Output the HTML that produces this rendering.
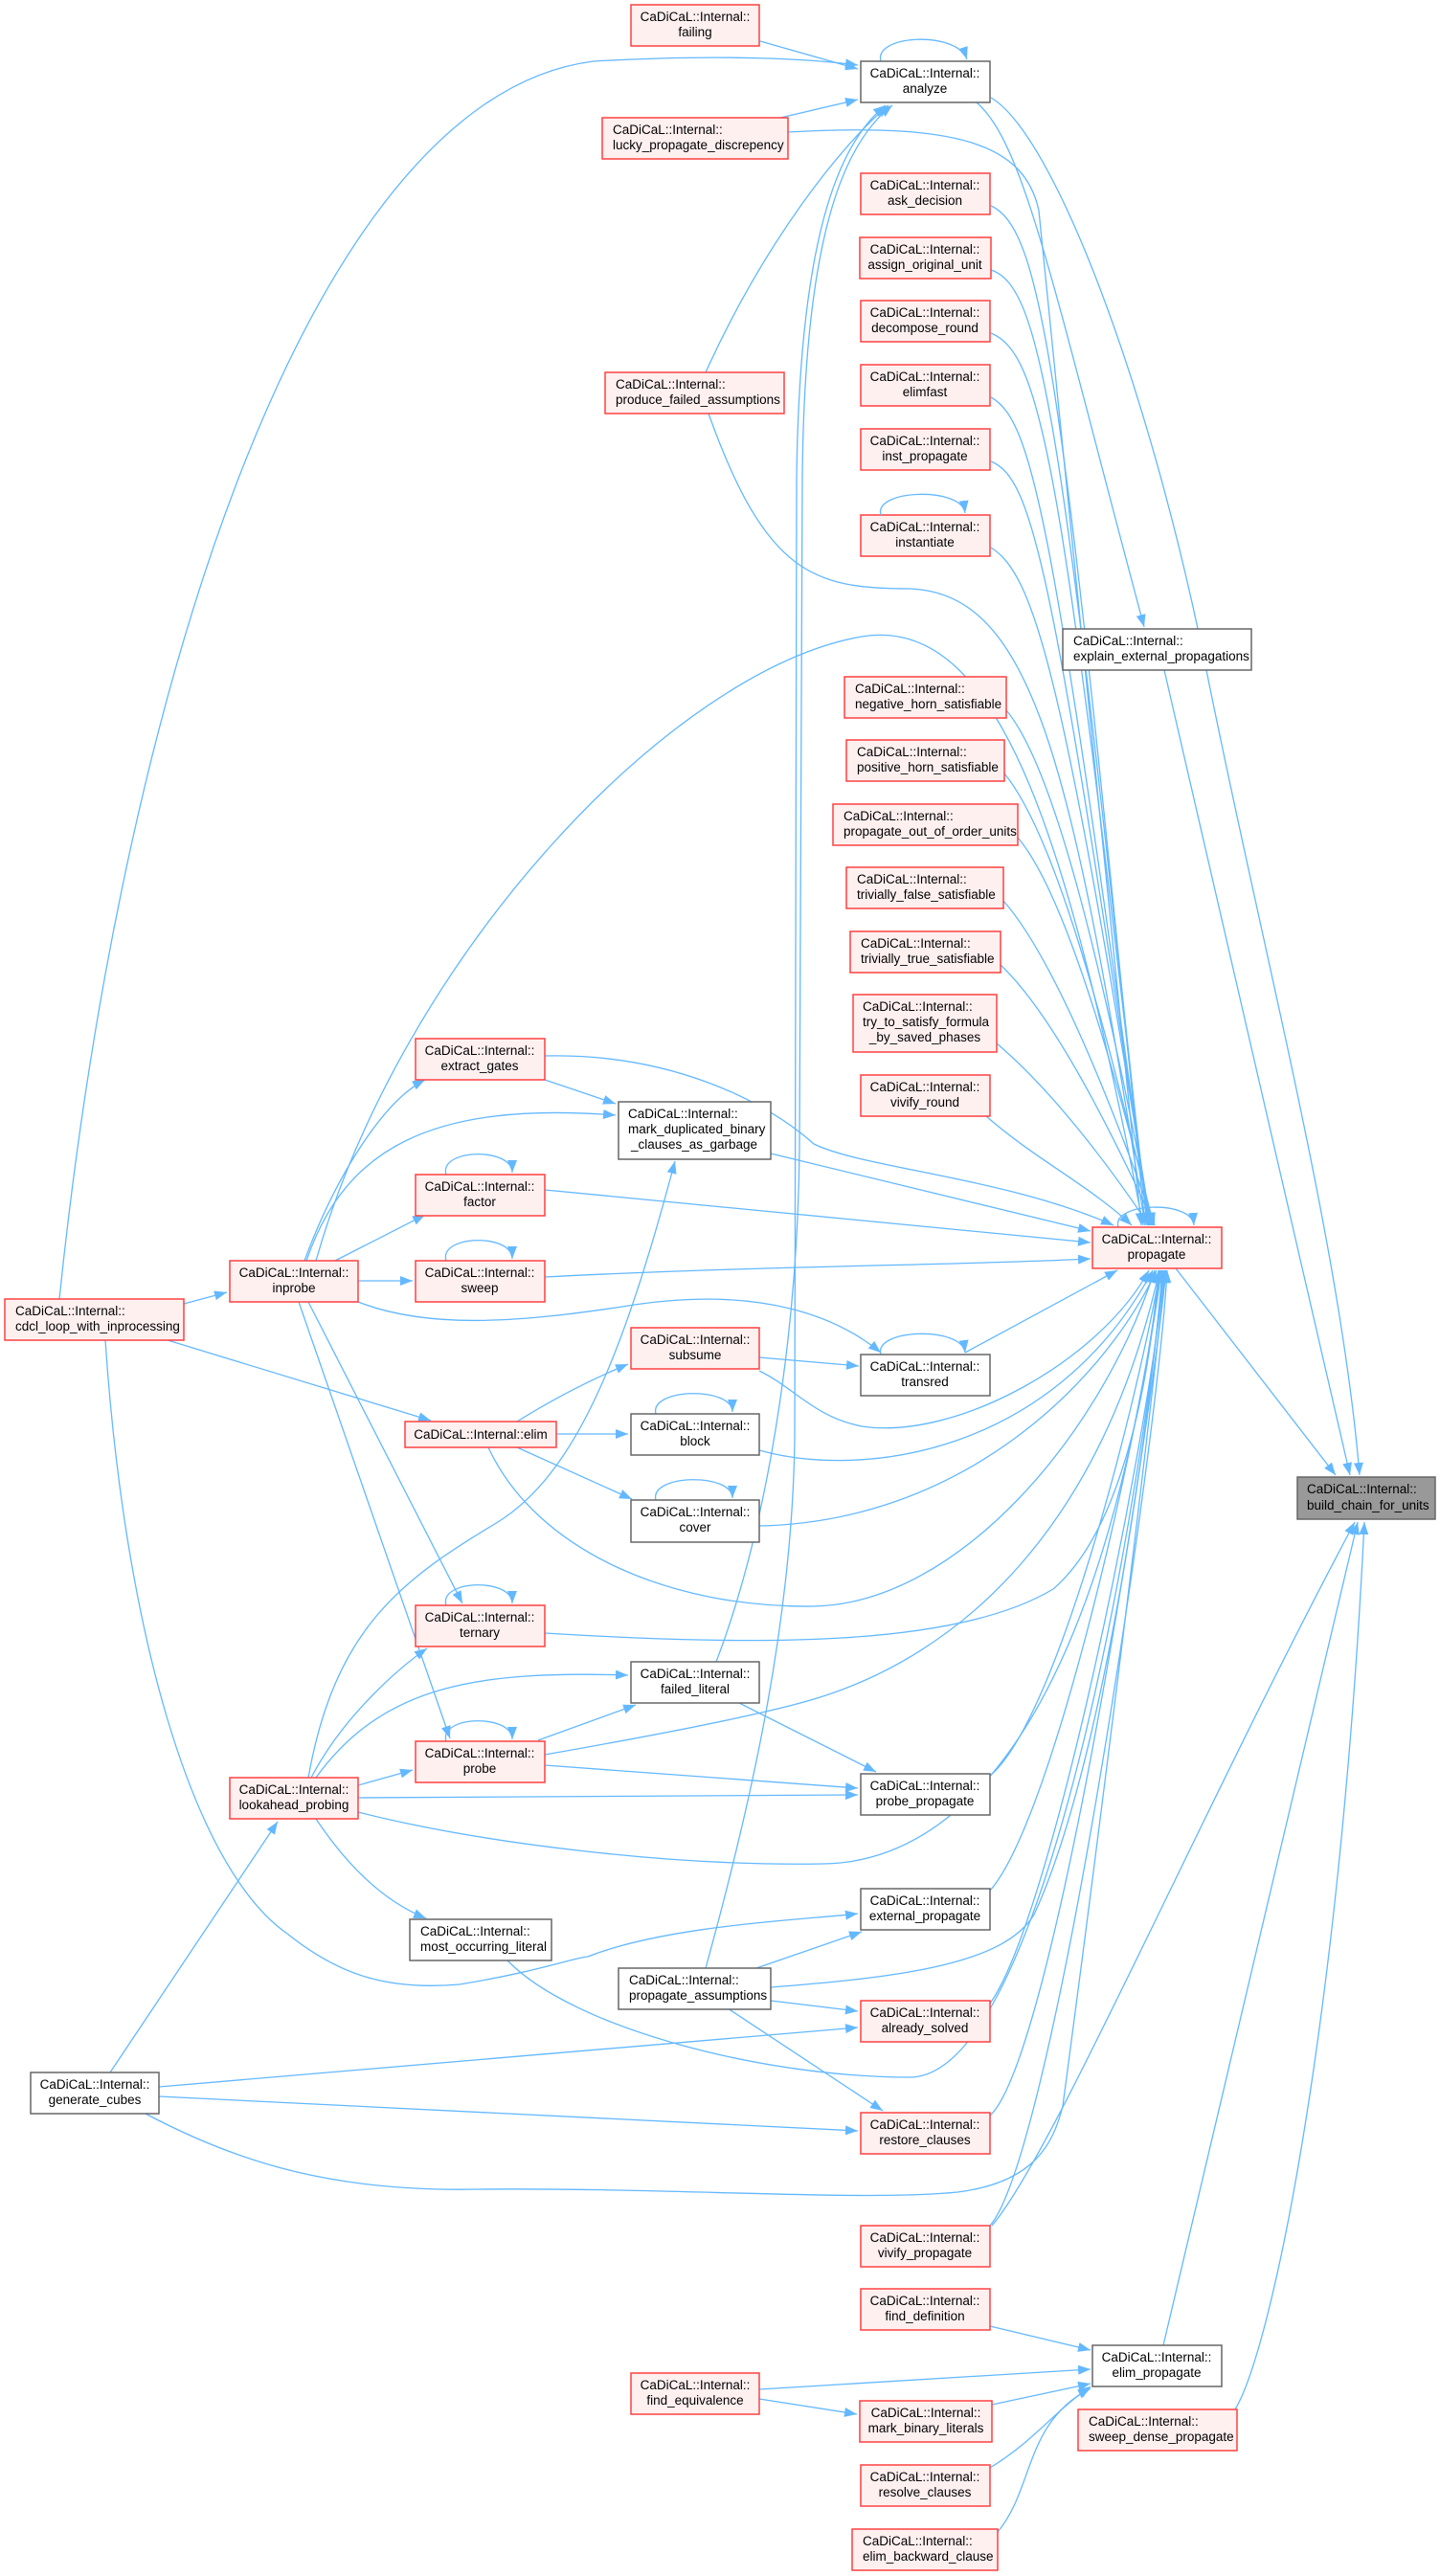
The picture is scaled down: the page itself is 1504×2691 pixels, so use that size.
<!DOCTYPE html>
<html><head><meta charset="utf-8"><style>
html,body{margin:0;padding:0;background:#fff;}
svg{display:block;}
text{font-family:"Liberation Sans",Arial,sans-serif;font-size:13.5px;fill:#000;}
.e{fill:none;stroke:#63b8ff;stroke-width:1.3;marker-end:url(#a);}
.r{fill:#fff0f0;stroke:#ff4040;stroke-width:1.5;}
.w{fill:#fff;stroke:#666;stroke-width:1.5;}
.g{fill:#999;stroke:#666;stroke-width:1.5;}
.c{text-anchor:middle;}
</style></head><body>
<svg width="1504" height="2691" viewBox="0 0 1504 2691" xmlns="http://www.w3.org/2000/svg">
<defs><marker id="a" markerUnits="userSpaceOnUse" markerWidth="14" markerHeight="11" refX="13" refY="5" orient="auto"><path d="M0,0 L13,5 L0,10 z" fill="#63b8ff"/></marker></defs>

<!-- edges -->
<path class="e" d="M794,43 L896,72"/>
<path class="e" d="M815,123 L896,104"/>
<path class="e" d="M62,1357 C130,700 330,100 620,64 C760,56 850,62 896,68"/>
<path class="e" d="M737,389 C800,250 880,150 928,110"/>
<path class="e" d="M748,1736 C800,1600 833,1400 835,1200 L838,500 C840,250 880,150 932,110"/>
<path class="e" d="M737,2056 C780,1900 828,1700 830,1500 L832,500 C835,250 875,150 925,110"/>
<path class="e" d="M920,64 C912,36 1000,32 1010,62"/>
<path class="e" d="M1020,107 C1070,150 1100,300 1195,655"/>
<path class="e" d="M1035,102 C1100,140 1200,400 1260,700 C1320,1000 1400,1300 1420,1541"/>
<path class="e" d="M1216,700 L1410,1541"/>
<path class="e" d="M1228,1325 L1395,1541"/>
<path class="e" d="M1036,2325 C1100,2250 1250,1900 1415,1590"/>
<path class="e" d="M1215,2450 L1418,1590"/>
<path class="e" d="M1290,2517 C1330,2450 1400,2100 1425,1590"/>

<!-- into propagate from top -->
<path class="e" d="M823,138 C1000,128 1070,150 1085,220 L1192,1280"/>
<path class="e" d="M1035,215 C1090,240 1110,400 1196,1280"/>
<path class="e" d="M1035,282 C1090,300 1110,450 1198,1280"/>
<path class="e" d="M1035,348 C1090,370 1110,500 1199,1280"/>
<path class="e" d="M1035,415 C1080,440 1100,550 1200,1280"/>
<path class="e" d="M1035,482 C1080,500 1100,600 1201,1280"/>
<path class="e" d="M1035,572 C1080,600 1110,700 1202,1280"/>
<path class="e" d="M740,432 C800,600 850,615 950,615 C1080,620 1120,800 1196,1280"/>
<path class="e" d="M330,1317 C420,1000 700,700 900,665 C1050,640 1120,900 1194,1280"/>
<path class="e" d="M1051,742 C1100,800 1150,1000 1203,1280"/>
<path class="e" d="M1049,808 C1100,870 1150,1050 1204,1280"/>
<path class="e" d="M1063,875 C1110,930 1160,1100 1205,1280"/>
<path class="e" d="M1048,941 C1100,1000 1160,1150 1206,1280"/>
<path class="e" d="M1045,1008 C1100,1060 1160,1180 1206,1280"/>
<path class="e" d="M1041,1090 C1100,1140 1160,1220 1200,1280"/>
<path class="e" d="M1030,1166 C1080,1210 1140,1240 1182,1280"/>
<path class="e" d="M569,1103 C700,1100 800,1150 850,1195 C900,1220 1050,1230 1163,1280"/>
<path class="e" d="M805,1205 L1139,1286"/>
<path class="e" d="M569,1243 L1139,1298"/>
<path class="e" d="M569,1334 C800,1322 1000,1322 1139,1315"/>
<path class="e" d="M1008,1413 L1167,1327"/>
<path class="e" d="M1168,1282 C1160,1256 1245,1253 1247,1280"/>

<!-- into propagate from bottom -->
<path class="e" d="M793,1432 C830,1450 850,1480 900,1490 C1000,1505 1150,1420 1200,1327"/>
<path class="e" d="M793,1515 C900,1545 1100,1520 1204,1327"/>
<path class="e" d="M510,1512 C560,1620 700,1680 850,1678 C1000,1675 1150,1500 1206,1327"/>
<path class="e" d="M793,1594 C1000,1590 1150,1450 1208,1327"/>
<path class="e" d="M569,1706 C800,1720 1000,1720 1100,1660 C1170,1600 1200,1450 1210,1327"/>
<path class="e" d="M569,1833 C700,1810 800,1790 850,1775 C1000,1730 1150,1600 1211,1327"/>
<path class="e" d="M374,1893 C500,1925 700,1950 860,1947 C1000,1945 1150,1800 1212,1327"/>
<path class="e" d="M1034,1855 C1100,1800 1180,1500 1212,1327"/>
<path class="e" d="M1034,1975 C1100,1900 1190,1500 1213,1327"/>
<path class="e" d="M805,2076 C950,2065 1050,2050 1080,2000 C1150,1850 1200,1500 1214,1327"/>
<path class="e" d="M530,2048 C600,2120 800,2170 950,2170 C1100,2170 1200,1500 1215,1327"/>
<path class="e" d="M1034,2093 C1100,2000 1200,1500 1216,1327"/>
<path class="e" d="M152,2208 C250,2260 350,2290 500,2287 C700,2285 900,2300 1000,2290 C1080,2280 1100,2240 1110,2200 C1150,1900 1200,1500 1217,1327"/>
<path class="e" d="M1034,2210 C1100,2150 1200,1500 1218,1327"/>
<path class="e" d="M1034,2325 C1100,2250 1210,1500 1219,1327"/>

<!-- inprobe / cdcl -->
<path class="e" d="M192,1362 L237,1350"/>
<path class="e" d="M318,1317 C350,1230 400,1150 444,1128"/>
<path class="e" d="M320,1317 C360,1200 450,1150 643,1165"/>
<path class="e" d="M350,1317 L444,1269"/>
<path class="e" d="M374,1338 L431,1338"/>
<path class="e" d="M374,1360 C450,1390 550,1380 650,1365 C800,1340 880,1380 920,1413"/>
<path class="e" d="M322,1360 L483,1675"/>
<path class="e" d="M312,1360 L470,1816"/>
<path class="e" d="M175,1400 L450,1484"/>
<path class="e" d="M110,1400 C130,1700 200,1950 300,2020 C350,2060 400,2080 480,2073 C560,2060 600,2045 614,2044 C700,2010 850,2005 896,1999"/>
<path class="e" d="M569,1128 L643,1153"/>
<path class="e" d="M466,1227 C458,1200 535,1198 535,1225"/>
<path class="e" d="M466,1317 C458,1290 535,1288 535,1315"/>

<!-- elim -->
<path class="e" d="M540,1485 C580,1460 620,1440 656,1425"/>
<path class="e" d="M581,1498 L656,1498"/>
<path class="e" d="M540,1512 L660,1566"/>
<path class="e" d="M793,1418 L897,1427"/>
<path class="e" d="M920,1415 C912,1388 1005,1385 1008,1413"/>
<path class="e" d="M685,1477 C678,1450 765,1448 765,1475"/>
<path class="e" d="M685,1567 C678,1540 765,1538 765,1565"/>
<path class="e" d="M466,1677 C458,1650 535,1648 535,1675"/>
<path class="e" d="M466,1819 C458,1792 535,1790 535,1817"/>

<!-- lookahead / probe -->
<path class="e" d="M770,1778 L915,1851"/>
<path class="e" d="M562,1818 L664,1781"/>
<path class="e" d="M325,1857 C360,1790 420,1740 446,1722"/>
<path class="e" d="M330,1857 C400,1760 500,1745 656,1750"/>
<path class="e" d="M374,1865 L431,1849"/>
<path class="e" d="M374,1878 L896,1875"/>
<path class="e" d="M569,1844 L896,1868"/>
<path class="e" d="M330,1900 C370,1960 410,1990 445,2004"/>
<path class="e" d="M322,1857 C350,1700 420,1650 520,1590 C600,1540 650,1420 705,1213"/>
<path class="e" d="M790,2056 L900,2018"/>
<path class="e" d="M805,2090 L896,2101"/>
<path class="e" d="M760,2098 L922,2205"/>
<path class="e" d="M115,2165 L290,1903"/>
<path class="e" d="M166,2180 L896,2118"/>
<path class="e" d="M166,2190 L896,2226"/>

<!-- elim_propagate -->
<path class="e" d="M1034,2430 L1139,2455"/>
<path class="e" d="M793,2496 L1139,2475"/>
<path class="e" d="M793,2506 L895,2522"/>
<path class="e" d="M1036,2512 L1139,2490"/>
<path class="e" d="M1034,2578 C1080,2550 1100,2520 1139,2493"/>
<path class="e" d="M1042,2645 C1080,2600 1070,2530 1139,2495"/>

<!-- nodes -->
<rect class="r" x="659" y="5" width="134" height="43"/><text class="c" x="726" y="22">CaDiCaL::Internal::</text><text class="c" x="726" y="38">failing</text>
<rect class="w" x="899" y="64" width="135" height="43"/><text class="c" x="966" y="81">CaDiCaL::Internal::</text><text class="c" x="966" y="97">analyze</text>
<rect class="r" x="629" y="123" width="194" height="43"/><text x="640" y="140">CaDiCaL::Internal::</text><text x="640" y="156">lucky_propagate_discrepency</text>
<rect class="r" x="899" y="181" width="135" height="43"/><text class="c" x="966" y="198">CaDiCaL::Internal::</text><text class="c" x="966" y="214">ask_decision</text>
<rect class="r" x="898" y="248" width="137" height="43"/><text class="c" x="966" y="265">CaDiCaL::Internal::</text><text class="c" x="966" y="281">assign_original_unit</text>
<rect class="r" x="899" y="314" width="135" height="43"/><text class="c" x="966" y="331">CaDiCaL::Internal::</text><text class="c" x="966" y="347">decompose_round</text>
<rect class="r" x="899" y="381" width="135" height="43"/><text class="c" x="966" y="398">CaDiCaL::Internal::</text><text class="c" x="966" y="414">elimfast</text>
<rect class="r" x="899" y="448" width="135" height="43"/><text class="c" x="966" y="465">CaDiCaL::Internal::</text><text class="c" x="966" y="481">inst_propagate</text>
<rect class="r" x="899" y="538" width="135" height="43"/><text class="c" x="966" y="555">CaDiCaL::Internal::</text><text class="c" x="966" y="571">instantiate</text>
<path class="e" d="M920,538 C912,511 1005,508 1008,536"/>
<rect class="r" x="632" y="389" width="187" height="43"/><text x="643" y="406">CaDiCaL::Internal::</text><text x="643" y="422">produce_failed_assumptions</text>
<rect class="w" x="1110" y="657" width="197" height="43"/><text x="1121" y="674">CaDiCaL::Internal::</text><text x="1121" y="690">explain_external_propagations</text>
<rect class="r" x="882" y="707" width="169" height="43"/><text x="893" y="724">CaDiCaL::Internal::</text><text x="893" y="740">negative_horn_satisfiable</text>
<rect class="r" x="884" y="773" width="165" height="43"/><text x="895" y="790">CaDiCaL::Internal::</text><text x="895" y="806">positive_horn_satisfiable</text>
<rect class="r" x="870" y="840" width="193" height="43"/><text x="881" y="857">CaDiCaL::Internal::</text><text x="881" y="873">propagate_out_of_order_units</text>
<rect class="r" x="884" y="906" width="164" height="43"/><text x="895" y="923">CaDiCaL::Internal::</text><text x="895" y="939">trivially_false_satisfiable</text>
<rect class="r" x="888" y="973" width="157" height="43"/><text x="899" y="990">CaDiCaL::Internal::</text><text x="899" y="1006">trivially_true_satisfiable</text>
<rect class="r" x="891" y="1039" width="150" height="60"/><text x="901" y="1056">CaDiCaL::Internal::</text><text x="901" y="1072">try_to_satisfy_formula</text><text class="c" x="966" y="1088">_by_saved_phases</text>
<rect class="r" x="899" y="1123" width="135" height="43"/><text class="c" x="966" y="1140">CaDiCaL::Internal::</text><text class="c" x="966" y="1156">vivify_round</text>
<rect class="r" x="434" y="1085" width="135" height="43"/><text class="c" x="501" y="1102">CaDiCaL::Internal::</text><text class="c" x="501" y="1118">extract_gates</text>
<rect class="w" x="646" y="1151" width="159" height="60"/><text x="656" y="1168">CaDiCaL::Internal::</text><text x="656" y="1184">mark_duplicated_binary</text><text class="c" x="725" y="1200">_clauses_as_garbage</text>
<rect class="r" x="434" y="1227" width="135" height="43"/><text class="c" x="501" y="1244">CaDiCaL::Internal::</text><text class="c" x="501" y="1260">factor</text>
<rect class="r" x="1141" y="1282" width="135" height="43"/><text class="c" x="1208" y="1299">CaDiCaL::Internal::</text><text class="c" x="1208" y="1315">propagate</text>
<rect class="r" x="240" y="1317" width="134" height="43"/><text class="c" x="307" y="1334">CaDiCaL::Internal::</text><text class="c" x="307" y="1350">inprobe</text>
<rect class="r" x="434" y="1317" width="135" height="43"/><text class="c" x="501" y="1334">CaDiCaL::Internal::</text><text class="c" x="501" y="1350">sweep</text>
<rect class="r" x="5" y="1357" width="187" height="43"/><text x="16" y="1374">CaDiCaL::Internal::</text><text x="16" y="1390">cdcl_loop_with_inprocessing</text>
<rect class="g" x="1355" y="1543" width="144" height="44"/><text x="1365" y="1560">CaDiCaL::Internal::</text><text x="1365" y="1577">build_chain_for_units</text>
<rect class="r" x="659" y="1387" width="134" height="43"/><text class="c" x="726" y="1404">CaDiCaL::Internal::</text><text class="c" x="726" y="1420">subsume</text>
<rect class="w" x="899" y="1415" width="135" height="43"/><text class="c" x="966" y="1432">CaDiCaL::Internal::</text><text class="c" x="966" y="1448">transred</text>
<rect class="r" x="423" y="1485" width="158" height="27"/><text class="c" x="502" y="1503">CaDiCaL::Internal::elim</text>
<rect class="w" x="659" y="1477" width="134" height="43"/><text class="c" x="726" y="1494">CaDiCaL::Internal::</text><text class="c" x="726" y="1510">block</text>
<rect class="w" x="659" y="1567" width="134" height="44"/><text class="c" x="726" y="1584">CaDiCaL::Internal::</text><text class="c" x="726" y="1600">cover</text>
<rect class="r" x="434" y="1677" width="135" height="43"/><text class="c" x="501" y="1694">CaDiCaL::Internal::</text><text class="c" x="501" y="1710">ternary</text>
<rect class="w" x="659" y="1736" width="134" height="43"/><text class="c" x="726" y="1753">CaDiCaL::Internal::</text><text class="c" x="726" y="1769">failed_literal</text>
<rect class="r" x="434" y="1819" width="135" height="43"/><text class="c" x="501" y="1836">CaDiCaL::Internal::</text><text class="c" x="501" y="1852">probe</text>
<rect class="r" x="240" y="1857" width="134" height="43"/><text class="c" x="307" y="1874">CaDiCaL::Internal::</text><text class="c" x="307" y="1890">lookahead_probing</text>
<rect class="w" x="899" y="1853" width="135" height="43"/><text class="c" x="966" y="1870">CaDiCaL::Internal::</text><text class="c" x="966" y="1886">probe_propagate</text>
<rect class="w" x="899" y="1973" width="135" height="43"/><text class="c" x="966" y="1990">CaDiCaL::Internal::</text><text class="c" x="966" y="2006">external_propagate</text>
<rect class="w" x="428" y="2005" width="148" height="43"/><text x="439" y="2022">CaDiCaL::Internal::</text><text x="439" y="2038">most_occurring_literal</text>
<rect class="w" x="646" y="2056" width="159" height="43"/><text x="657" y="2073">CaDiCaL::Internal::</text><text x="657" y="2089">propagate_assumptions</text>
<rect class="r" x="899" y="2090" width="135" height="43"/><text class="c" x="966" y="2107">CaDiCaL::Internal::</text><text class="c" x="966" y="2123">already_solved</text>
<rect class="w" x="32" y="2165" width="134" height="43"/><text class="c" x="99" y="2182">CaDiCaL::Internal::</text><text class="c" x="99" y="2198">generate_cubes</text>
<rect class="r" x="899" y="2207" width="135" height="43"/><text class="c" x="966" y="2224">CaDiCaL::Internal::</text><text class="c" x="966" y="2240">restore_clauses</text>
<rect class="r" x="899" y="2325" width="135" height="43"/><text class="c" x="966" y="2342">CaDiCaL::Internal::</text><text class="c" x="966" y="2358">vivify_propagate</text>
<rect class="r" x="899" y="2391" width="135" height="43"/><text class="c" x="966" y="2408">CaDiCaL::Internal::</text><text class="c" x="966" y="2424">find_definition</text>
<rect class="w" x="1141" y="2450" width="135" height="43"/><text class="c" x="1208" y="2467">CaDiCaL::Internal::</text><text class="c" x="1208" y="2483">elim_propagate</text>
<rect class="r" x="659" y="2479" width="134" height="43"/><text class="c" x="726" y="2496">CaDiCaL::Internal::</text><text class="c" x="726" y="2512">find_equivalence</text>
<rect class="r" x="898" y="2508" width="138" height="43"/><text class="c" x="967" y="2525">CaDiCaL::Internal::</text><text class="c" x="967" y="2541">mark_binary_literals</text>
<rect class="r" x="1126" y="2517" width="166" height="43"/><text x="1137" y="2534">CaDiCaL::Internal::</text><text x="1137" y="2550">sweep_dense_propagate</text>
<rect class="r" x="899" y="2575" width="135" height="43"/><text class="c" x="966" y="2592">CaDiCaL::Internal::</text><text class="c" x="966" y="2608">resolve_clauses</text>
<rect class="r" x="890" y="2642" width="152" height="43"/><text x="901" y="2659">CaDiCaL::Internal::</text><text x="901" y="2675">elim_backward_clause</text>
</svg>
</body></html>
